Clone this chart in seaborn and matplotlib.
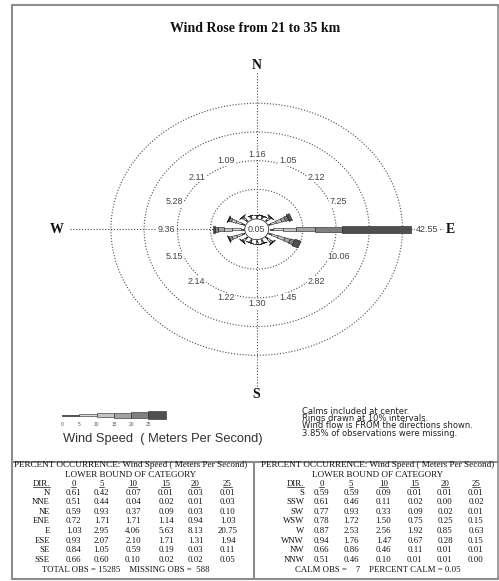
import numpy as np
import pandas as pd
import matplotlib
matplotlib.use("Agg")
import matplotlib.pyplot as plt
import seaborn as sns

dirs = ['N', 'NNE', 'NE', 'ENE', 'E', 'ESE', 'SE', 'SSE',
        'S', 'SSW', 'SW', 'WSW', 'W', 'WNW', 'NW', 'NNW']
speed_bins = [0, 5, 10, 15, 20, 25]
spd_0 = [0.61, 0.51, 0.59, 0.72, 1.03, 0.93, 0.84, 0.66, 0.59, 0.61, 0.77, 0.78, 0.87, 0.94, 0.66, 0.51]
spd_5 = [0.42, 0.44, 0.93, 1.71, 2.95, 2.07, 1.05, 0.60, 0.59, 0.46, 0.93, 1.72, 2.53, 1.76, 0.86, 0.46]
spd_10 = [0.07, 0.04, 0.37, 1.71, 4.06, 2.10, 0.59, 0.10, 0.09, 0.11, 0.33, 1.50, 2.56, 1.47, 0.46, 0.10]
spd_15 = [0.01, 0.02, 0.09, 1.14, 5.63, 1.71, 0.19, 0.02, 0.01, 0.02, 0.09, 0.75, 1.92, 0.67, 0.11, 0.01]
spd_20 = [0.03, 0.01, 0.03, 0.94, 8.13, 1.31, 0.03, 0.02, 0.01, 0.00, 0.02, 0.25, 0.85, 0.28, 0.01, 0.01]
spd_25 = [0.01, 0.03, 0.10, 1.03, 20.75, 1.94, 0.11, 0.05, 0.01, 0.02, 0.01, 0.15, 0.63, 0.15, 0.01, 0.00]
dir_totals = [1.16, 1.05, 2.12, 7.25, 42.55, 10.06, 2.82, 1.45,
              1.30, 1.22, 2.14, 5.15, 9.36, 5.28, 2.11, 1.09]
total_obs = 15285
missing_obs = 588
calm_obs = 7
pct_calm = 0.05
pct_missing = 3.85
ring_step = 10

df = pd.DataFrame({'DIR': dirs, '0': spd_0, '5': spd_5, '10': spd_10,
                   '15': spd_15, '20': spd_20, '25': spd_25})
cols = ['0', '5', '10', '15', '20', '25']

sns.set_theme(style='white')
plt.rcParams['font.family'] = ['Liberation Sans', 'DejaVu Sans']
SERIF = ['Liberation Serif', 'DejaVu Serif']

W, H = 499, 581
fig = plt.figure(figsize=(W / 100, H / 100), dpi=100)
fig.patch.set_facecolor('white')

# background axes in pixel coordinates (frame, tables, legend)
bg = fig.add_axes([0, 0, 1, 1], zorder=-1)
bg.set_xlim(0, W)
bg.set_ylim(H, 0)
bg.axis('off')

# --- rose ---
ax = fig.add_axes([0.1152, 0.3337, 0.7984, 0.5434])
ax.set_xlim(-60, 60)
ax.set_ylim(-55, 55)
ax.axis('off')

calm_off = 3.9
dot = (0, (1, 1.6))
t = np.linspace(0, 2 * np.pi, 400)
for k in range(1, 5):
    r = calm_off + ring_step * k
    ax.plot(r * np.cos(t), r * np.sin(t), color='#4d4d4d', lw=0.8, ls=dot, zorder=1)
ax.plot([0, 0], [-54.6, 55], color='#4d4d4d', lw=0.8, ls=dot, zorder=1)
ax.plot([-56.3, 56], [0, 0], color='#4d4d4d', lw=0.8, ls=dot, zorder=1)

colors = ['#303030', '#dadada', '#c4c4c4', '#a3a3a3', '#808080', '#505050']
widths = [0.35, 0.6, 0.95, 1.25, 1.7, 2.5]

for i, d in enumerate(dirs):
    th = np.deg2rad(22.5 * i)
    u = np.array([np.sin(th), np.cos(th)])
    p = np.array([np.cos(th), -np.sin(th)])
    vals = df.loc[i, cols].to_numpy(dtype=float)
    cum = np.concatenate([[0], np.cumsum(vals)])
    for k in range(6):
        r0, r1 = calm_off + cum[k], calm_off + cum[k + 1]
        if r1 - r0 <= 0:
            continue
        w = widths[k] / 2
        pts = np.array([r0 * u + w * p, r1 * u + w * p, r1 * u - w * p, r0 * u - w * p])
        ax.fill(pts[:, 0], pts[:, 1], facecolor=colors[k], edgecolor='#1a1a1a',
                lw=0.4, zorder=3)

    tot = dir_totals[i]
    s, c = np.sin(th), np.cos(th)
    if tot > 2 * ring_step:
        R = calm_off + tot + 1.5
        ax.text(R * s, R * c, f'{tot:.2f}', ha='left', va='center', fontsize=6.5,
                color='#444444', zorder=5,
                bbox=dict(facecolor='white', edgecolor='none', pad=0.3))
    else:
        R = calm_off + 2 * ring_step
        x = R * s + 11 * s ** 3 / 3.32
        y = R * c + 6 * np.sign(c) * abs(c) ** 1.5 / 2.87
        ax.text(x, y, f'{tot:.2f}', ha='center', va='center', fontsize=6.5,
                color='#444444', zorder=5,
                bbox=dict(facecolor='white', edgecolor='none', pad=0.3))

ax.add_patch(plt.Circle((0, 0), 3.6, facecolor='white', edgecolor='#333333', lw=0.6, zorder=4))
ax.text(0, 0, f'{pct_calm:.2f}', ha='center', va='center', fontsize=6.5, color='#444444', zorder=5)

for lab, x, y in [('N', 0, 56.9), ('S', 0, -57.4), ('W', -60.2, 0), ('E', 58.4, 0)]:
    ax.text(x, y, lab, ha='center', va='center', fontsize=10, fontweight='bold',
            family=SERIF, color='#111111', clip_on=False)

# --- title ---
bg.text(255, 29, 'Wind Rose from 21 to 35 km', ha='center', va='center',
        fontsize=10, fontweight='bold', family=SERIF, color='#111111')

# --- frame ---
fc = '#8c8c8c'
bg.plot([12, 12], [5, 579], color=fc, lw=1.5)
bg.plot([12, 498], [5, 5], color=fc, lw=1.5)
bg.plot([498, 498], [5, 579], color=fc, lw=1.2)
bg.plot([12, 498], [579, 579], color=fc, lw=1.5)
bg.plot([12, 498], [462, 462], color=fc, lw=1.5)
bg.plot([254, 254], [462, 579], color=fc, lw=1.5)

# --- speed legend ---
seg = 17.3
leg_h = [1, 2.5, 3.3, 5, 6, 8.5]
for k, b in enumerate(speed_bins):
    x0 = 62 + k * seg
    bg.add_patch(plt.Rectangle((x0, 415 - leg_h[k] / 2), seg, leg_h[k],
                               facecolor=colors[k], edgecolor='#222222', lw=0.4))
    bg.text(x0, 424, str(b), ha='center', va='center', fontsize=3.5, color='#555555')
bg.text(63, 439, 'Wind Speed  ( Meters Per Second)', ha='left', va='center',
        fontsize=9.3, color='#333333')

notes = ['Calms included at center.',
         f'Rings drawn at {ring_step}% intervals.',
         'Wind flow is FROM the directions shown.',
         f'{pct_missing:.2f}% of observations were missing.']
bg.text(302, 406.5, '\n'.join(notes), ha='left', va='top', fontsize=6,
        linespacing=0.78, family=['DejaVu Sans'], color='#222222')

# --- tables ---
fs = 6.3
row_y0, row_dy = 492.6, 9.6
tables = [
    dict(rows=df.iloc[:8], dir_x=50, col_x=[73.5, 101.5, 133, 166, 195.5, 227.5], cx=131,
         foot=f'TOTAL OBS = {total_obs}    MISSING OBS =  {missing_obs}', foot_x=126),
    dict(rows=df.iloc[8:], dir_x=304, col_x=[321.5, 351, 383.5, 415, 445, 476], cx=378,
         foot=f'CALM OBS =    {calm_obs}    PERCENT CALM = {pct_calm:.2f}', foot_x=378),
]
header_texts = []
for tb in tables:
    bg.text(tb['cx'], 465, 'PERCENT OCCURRENCE: Wind Speed ( Meters Per Second)',
            ha='center', va='center', fontsize=6.6, family=SERIF, color='#111111')
    bg.text(tb['cx'], 475, 'LOWER BOUND OF CATEGORY', ha='center', va='center',
            fontsize=6.6, family=SERIF, color='#111111')
    header_texts.append(bg.text(tb['dir_x'], 483.5, 'DIR.', ha='right', va='center',
                                fontsize=fs, family=SERIF, color='#111111'))
    for cname, x in zip(cols, tb['col_x']):
        header_texts.append(bg.text(x, 483.5, cname, ha='center', va='center',
                                    fontsize=fs, family=SERIF, color='#111111'))
    for j, (_, row) in enumerate(tb['rows'].iterrows()):
        y = row_y0 + j * row_dy
        bg.text(tb['dir_x'], y, row['DIR'], ha='right', va='center', fontsize=fs,
                family=SERIF, color='#111111')
        for cname, x in zip(cols, tb['col_x']):
            bg.text(x, y, f'{row[cname]:.2f}', ha='center', va='center', fontsize=fs,
                    family=SERIF, color='#111111')
    bg.text(tb['foot_x'], 569.5, tb['foot'], ha='center', va='center', fontsize=fs,
            family=SERIF, color='#111111')

# underline the column headers
fig.canvas.draw()
for txt in header_texts:
    bb = txt.get_window_extent()
    bg.plot([bb.x0, bb.x1], [487.3, 487.3], color='#111111', lw=0.5)

fig.savefig('out.png', dpi=100, facecolor='white')
